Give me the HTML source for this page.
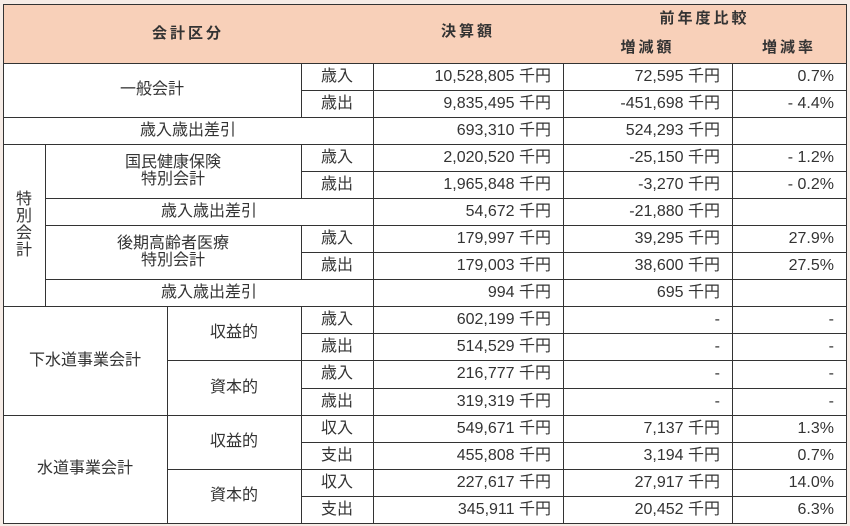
<!DOCTYPE html>
<html><head><meta charset="utf-8"><style>
html,body{margin:0;padding:0;}
body{width:850px;height:526px;background:#f6ece6;position:relative;overflow:hidden;font-family:"Liberation Sans","Noto Sans CJK JP",sans-serif;font-size:16px;color:#333;}
#t{position:absolute;left:3px;top:4px;width:844px;height:520px;border:1px solid #333;box-sizing:border-box;z-index:5;}
#bg{position:absolute;left:3px;top:4px;width:844px;height:520px;background:#fff;}
.c{position:absolute;box-sizing:border-box;border-right:1px solid #333;border-bottom:1px solid #333;display:flex;align-items:center;justify-content:center;text-align:center;line-height:18px;white-space:nowrap;}
.h{background:#f8d0b9;font-weight:bold;letter-spacing:3px;font-size:15px;}
.r{justify-content:flex-end;padding-right:12px;}
.v{flex-direction:column;line-height:17px;}
</style></head><body>
<div id="bg"></div>
<div id="t"></div>
<!-- header -->
<div class="c h" style="left:3px;top:4px;width:371px;height:60px;">会計区分</div>
<div class="c h" style="left:373px;top:4px;width:191px;height:60px;padding-bottom:4px;">決算額</div>
<div class="c h" style="left:563px;top:4px;width:284px;height:30px;">前年度比較</div>
<div class="c h" style="left:563px;top:33px;width:170px;height:31px;">増減額</div>
<div class="c h" style="left:732px;top:33px;width:115px;height:31px;">増減率</div>

<!-- general -->
<div class="c" style="left:3px;top:63px;width:299px;height:55px;">一般会計</div>
<div class="c" style="left:301px;top:63px;width:73px;height:28px;">歳入</div>
<div class="c" style="left:301px;top:90px;width:73px;height:28px;">歳出</div>
<div class="c" style="left:3px;top:117px;width:371px;height:28px;">歳入歳出差引</div>

<!-- special -->
<div class="c v" style="left:3px;top:144px;width:43px;height:163px;"><span>特</span><span>別</span><span>会</span><span>計</span></div>
<div class="c v" style="left:45px;top:144px;width:257px;height:55px;"><span>国民健康保険</span><span>特別会計</span></div>
<div class="c" style="left:301px;top:144px;width:73px;height:28px;">歳入</div>
<div class="c" style="left:301px;top:171px;width:73px;height:28px;">歳出</div>
<div class="c" style="left:45px;top:198px;width:329px;height:28px;">歳入歳出差引</div>
<div class="c v" style="left:45px;top:225px;width:257px;height:55px;"><span>後期高齢者医療</span><span>特別会計</span></div>
<div class="c" style="left:301px;top:225px;width:73px;height:28px;">歳入</div>
<div class="c" style="left:301px;top:252px;width:73px;height:28px;">歳出</div>
<div class="c" style="left:45px;top:279px;width:329px;height:28px;">歳入歳出差引</div>

<!-- sewer -->
<div class="c" style="left:3px;top:306px;width:165px;height:110px;">下水道事業会計</div>
<div class="c" style="left:167px;top:306px;width:135px;height:55px;">収益的</div>
<div class="c" style="left:167px;top:360px;width:135px;height:56px;">資本的</div>
<div class="c" style="left:301px;top:306px;width:73px;height:28px;">歳入</div>
<div class="c" style="left:301px;top:333px;width:73px;height:28px;">歳出</div>
<div class="c" style="left:301px;top:360px;width:73px;height:29px;">歳入</div>
<div class="c" style="left:301px;top:388px;width:73px;height:28px;">歳出</div>

<!-- water -->
<div class="c" style="left:3px;top:415px;width:165px;height:109px;">水道事業会計</div>
<div class="c" style="left:167px;top:415px;width:135px;height:55px;">収益的</div>
<div class="c" style="left:167px;top:469px;width:135px;height:55px;">資本的</div>
<div class="c" style="left:301px;top:415px;width:73px;height:28px;">収入</div>
<div class="c" style="left:301px;top:442px;width:73px;height:28px;">支出</div>
<div class="c" style="left:301px;top:469px;width:73px;height:28px;">収入</div>
<div class="c" style="left:301px;top:496px;width:73px;height:28px;">支出</div>

<!-- values -->
<div class="c r" style="left:373px;top:63px;width:191px;height:28px;">10,528,805 千円</div>
<div class="c r" style="left:563px;top:63px;width:170px;height:28px;">72,595 千円</div>
<div class="c r" style="left:732px;top:63px;width:115px;height:28px;">0.7%</div>

<div class="c r" style="left:373px;top:90px;width:191px;height:28px;">9,835,495 千円</div>
<div class="c r" style="left:563px;top:90px;width:170px;height:28px;">-451,698 千円</div>
<div class="c r" style="left:732px;top:90px;width:115px;height:28px;">- 4.4%</div>

<div class="c r" style="left:373px;top:117px;width:191px;height:28px;">693,310 千円</div>
<div class="c r" style="left:563px;top:117px;width:170px;height:28px;">524,293 千円</div>
<div class="c r" style="left:732px;top:117px;width:115px;height:28px;"></div>

<div class="c r" style="left:373px;top:144px;width:191px;height:28px;">2,020,520 千円</div>
<div class="c r" style="left:563px;top:144px;width:170px;height:28px;">-25,150 千円</div>
<div class="c r" style="left:732px;top:144px;width:115px;height:28px;">- 1.2%</div>

<div class="c r" style="left:373px;top:171px;width:191px;height:28px;">1,965,848 千円</div>
<div class="c r" style="left:563px;top:171px;width:170px;height:28px;">-3,270 千円</div>
<div class="c r" style="left:732px;top:171px;width:115px;height:28px;">- 0.2%</div>

<div class="c r" style="left:373px;top:198px;width:191px;height:28px;">54,672 千円</div>
<div class="c r" style="left:563px;top:198px;width:170px;height:28px;">-21,880 千円</div>
<div class="c r" style="left:732px;top:198px;width:115px;height:28px;"></div>

<div class="c r" style="left:373px;top:225px;width:191px;height:28px;">179,997 千円</div>
<div class="c r" style="left:563px;top:225px;width:170px;height:28px;">39,295 千円</div>
<div class="c r" style="left:732px;top:225px;width:115px;height:28px;">27.9%</div>

<div class="c r" style="left:373px;top:252px;width:191px;height:28px;">179,003 千円</div>
<div class="c r" style="left:563px;top:252px;width:170px;height:28px;">38,600 千円</div>
<div class="c r" style="left:732px;top:252px;width:115px;height:28px;">27.5%</div>

<div class="c r" style="left:373px;top:279px;width:191px;height:28px;">994 千円</div>
<div class="c r" style="left:563px;top:279px;width:170px;height:28px;">695 千円</div>
<div class="c r" style="left:732px;top:279px;width:115px;height:28px;"></div>

<div class="c r" style="left:373px;top:306px;width:191px;height:28px;">602,199 千円</div>
<div class="c r" style="left:563px;top:306px;width:170px;height:28px;">-</div>
<div class="c r" style="left:732px;top:306px;width:115px;height:28px;">-</div>

<div class="c r" style="left:373px;top:333px;width:191px;height:28px;">514,529 千円</div>
<div class="c r" style="left:563px;top:333px;width:170px;height:28px;">-</div>
<div class="c r" style="left:732px;top:333px;width:115px;height:28px;">-</div>

<div class="c r" style="left:373px;top:360px;width:191px;height:29px;">216,777 千円</div>
<div class="c r" style="left:563px;top:360px;width:170px;height:29px;">-</div>
<div class="c r" style="left:732px;top:360px;width:115px;height:29px;">-</div>

<div class="c r" style="left:373px;top:388px;width:191px;height:28px;">319,319 千円</div>
<div class="c r" style="left:563px;top:388px;width:170px;height:28px;">-</div>
<div class="c r" style="left:732px;top:388px;width:115px;height:28px;">-</div>

<div class="c r" style="left:373px;top:415px;width:191px;height:28px;">549,671 千円</div>
<div class="c r" style="left:563px;top:415px;width:170px;height:28px;">7,137 千円</div>
<div class="c r" style="left:732px;top:415px;width:115px;height:28px;">1.3%</div>

<div class="c r" style="left:373px;top:442px;width:191px;height:28px;">455,808 千円</div>
<div class="c r" style="left:563px;top:442px;width:170px;height:28px;">3,194 千円</div>
<div class="c r" style="left:732px;top:442px;width:115px;height:28px;">0.7%</div>

<div class="c r" style="left:373px;top:469px;width:191px;height:28px;">227,617 千円</div>
<div class="c r" style="left:563px;top:469px;width:170px;height:28px;">27,917 千円</div>
<div class="c r" style="left:732px;top:469px;width:115px;height:28px;">14.0%</div>

<div class="c r" style="left:373px;top:496px;width:191px;height:28px;">345,911 千円</div>
<div class="c r" style="left:563px;top:496px;width:170px;height:28px;">20,452 千円</div>
<div class="c r" style="left:732px;top:496px;width:115px;height:28px;">6.3%</div>
</body></html>
